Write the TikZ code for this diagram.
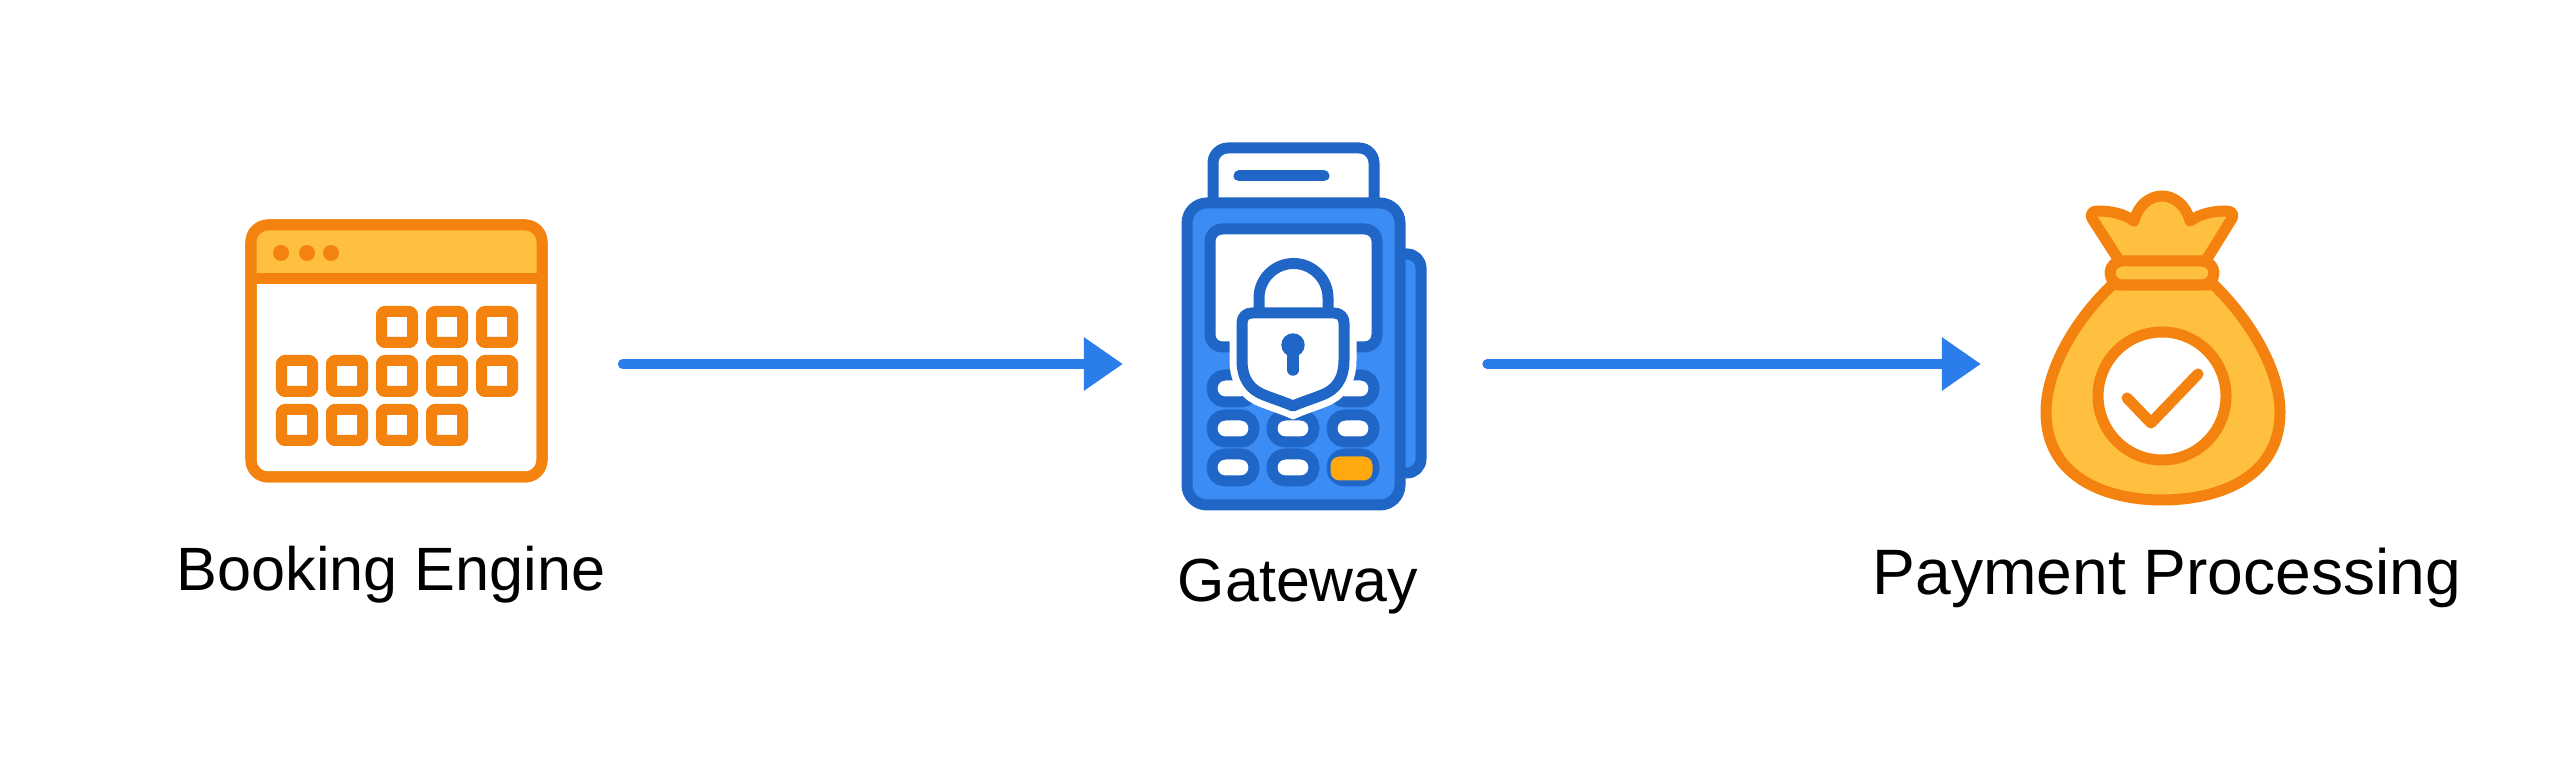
\documentclass[tikz,border=0pt]{standalone}
\usepackage{fontspec}
\setmainfont{Liberation Sans}
\usepackage{tikz}
\usetikzlibrary{arrows.meta}
\definecolor{darkorange}{HTML}{F4820F}
\definecolor{amber}{HTML}{FFC040}
\definecolor{darkblue}{HTML}{1F66C6}
\definecolor{keyblue}{HTML}{3C8CF5}
\definecolor{flowblue}{HTML}{2B7DE9}
\definecolor{okkey}{HTML}{FFA90F}
\tikzset{
  iconbox/.style={minimum width=#1, minimum height=2.6cm, inner sep=0pt, outer sep=0pt},
  caption/.style={anchor=base, inner sep=0pt, text=black},
  flow/.style={line width=.095cm, draw=flowblue, line cap=round,
    -{Triangle[length=.39cm,width=.51cm,fill=flowblue]}},
  orangeline/.style={draw=darkorange, line width=.11cm, line join=round},
  blueline/.style={draw=darkblue, line width=.11cm, line join=round}
}
\begin{document}
\begin{tikzpicture}[x=.01cm,y=-.01cm]
\useasboundingbox (0,0) rectangle (2560,780);
\node[iconbox=3.02cm] (booking) at (396.5,364) {};
\node[iconbox=2.44cm] (gateway) at (1304,364) {};
\node[iconbox=2.44cm] (bag) at (2163,364) {};
% calendar
\draw[orangeline, fill=white, rounded corners=.17cm] (251,225) rectangle (542,477);
\fill[amber] (251,279) [rounded corners=.17cm] -- (251,225) -- (542,225) [sharp corners] -- (542,279) -- cycle;
\draw[orangeline, rounded corners=.17cm] (251,225) rectangle (542,477);
\draw[orangeline] (251,279) -- (542,279);
\fill[darkorange]
(281,253) circle [radius=8]
(307,253) circle [radius=8]
(331,253) circle [radius=8];
\draw[orangeline, rounded corners=.03cm]
(381.5,311.5) rectangle ++(31,31)
(431.5,311.5) rectangle ++(31,31)
(481.5,311.5) rectangle ++(31,31)
(281.5,360.5) rectangle ++(31,31)
(331.5,360.5) rectangle ++(31,31)
(381.5,360.5) rectangle ++(31,31)
(431.5,360.5) rectangle ++(31,31)
(481.5,360.5) rectangle ++(31,31)
(281.5,409.5) rectangle ++(31,31)
(331.5,409.5) rectangle ++(31,31)
(381.5,409.5) rectangle ++(31,31)
(431.5,409.5) rectangle ++(31,31);
% card terminal
\draw[blueline, fill=white, rounded corners=.15cm] (1213,215) -- (1213,148) -- (1374,148) -- (1374,215);
\draw[blueline, line cap=round] (1239,176) -- (1324,176);
\draw[blueline, fill=keyblue, rounded corners=.14cm] (1380,254) rectangle (1421,473);
\draw[blueline, fill=keyblue, rounded corners=.2cm] (1187,203) rectangle (1400,505);
\draw[blueline, fill=white, rounded corners=.12cm] (1210,229) rectangle (1377,347);
\draw[blueline, fill=white, rounded corners=.13cm]
(1212,375) rectangle ++(42,27)
(1332,375) rectangle ++(42,27)
(1212,415) rectangle ++(42,27)
(1272,415) rectangle ++(42,27)
(1332,415) rectangle ++(42,27)
(1212,454) rectangle ++(42,27)
(1272,454) rectangle ++(42,27)
(1332,454) rectangle ++(42,27);
\draw[draw=darkblue, line width=.03cm, fill=okkey, rounded corners=.1cm] (1329,455) rectangle (1374,482);
% lock
\draw[draw=white, line width=.25cm, fill=white]
(1252,313) -- (1334,313) .. controls (1340,313) and (1344,317) .. (1344,323)
-- (1344,360) .. controls (1344,380) and (1335,390) .. (1322,395)
.. controls (1312,399) and (1302,402) .. (1293,406)
.. controls (1284,402) and (1274,399) .. (1264,395)
.. controls (1251,390) and (1242,380) .. (1242,360)
-- (1242,323) .. controls (1242,317) and (1246,313) .. (1252,313) -- cycle;
\draw[blueline, fill=white] (1259,313) -- (1259,298) arc [start angle=180, end angle=360, radius=34.5] -- (1328,313);
\draw[blueline, fill=white]
(1252,313) -- (1334,313) .. controls (1340,313) and (1344,317) .. (1344,323)
-- (1344,360) .. controls (1344,380) and (1335,390) .. (1322,395)
.. controls (1312,399) and (1302,402) .. (1293,406)
.. controls (1284,402) and (1274,399) .. (1264,395)
.. controls (1251,390) and (1242,380) .. (1242,360)
-- (1242,323) .. controls (1242,317) and (1246,313) .. (1252,313) -- cycle;
\fill[darkblue] (1293,345) circle [radius=11.7];
\draw[draw=darkblue, line width=.115cm, line cap=round] (1293,345) -- (1293,370);
% money bag
\draw[orangeline, fill=amber]
(2112,285) .. controls (2075,320) and (2046,370) .. (2046,412)
.. controls (2046,480) and (2110,500) .. (2162,500)
.. controls (2215,500) and (2280,480) .. (2280,412)
.. controls (2280,370) and (2250,320) .. (2214,285) -- cycle;
\draw[orangeline, fill=amber]
(2120,262) -- (2093,220) .. controls (2089,214) and (2092,211) .. (2098,211)
.. controls (2112,211) and (2124,214) .. (2134,221)
.. controls (2138,205) and (2150,196) .. (2162,196)
.. controls (2174,196) and (2186,205) .. (2190,221)
.. controls (2200,214) and (2212,211) .. (2226,211)
.. controls (2232,211) and (2235,214) .. (2231,220) -- (2205,262) -- cycle;
\draw[orangeline, fill=amber, rounded corners=.12cm] (2110,261) rectangle (2214,285);
\draw[orangeline, fill=white] (2162,396) circle [radius=64];
\draw[orangeline, line cap=round] (2127,398) -- (2151,423) -- (2198,374);
% flows
\draw[flow, shorten <=.75cm, shorten >=.59cm] (booking) -- (gateway);
\draw[flow, shorten <=.61cm, shorten >=.6cm] (gateway) -- (bag);
% captions
\node[caption, font=\fontsize{17.4pt}{20pt}\selectfont] (bookinglabel) at (391,591) {Booking Engine};
\node[caption, font=\fontsize{17.3pt}{20pt}\selectfont] (gatewaylabel) at (1298,602) {Gateway};
\node[caption, font=\fontsize{18.25pt}{20pt}\selectfont] (paymentlabel) at (2167,595) {Payment Processing};
\end{tikzpicture}
\end{document}
